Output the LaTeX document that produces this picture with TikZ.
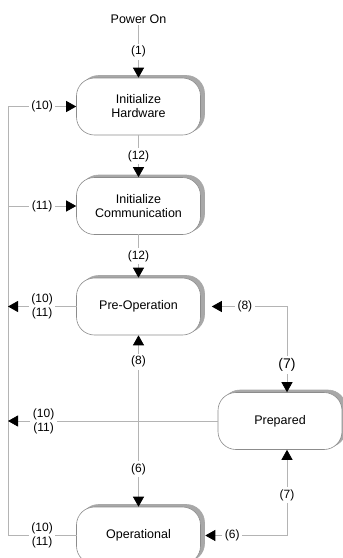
\documentclass[tikz,border=0pt]{standalone}
\usepackage{fontspec}
\setmainfont{Liberation Sans}
\usetikzlibrary{arrows.meta,shadows}
\definecolor{linegray}{HTML}{B4B4B4}
\definecolor{boxgray}{HTML}{8C8C8C}
\definecolor{shadowgray}{HTML}{A8A8A8}
\tikzset{
  state/.style={draw=boxgray, line width=0.6pt, fill=white, rounded corners=18pt,
    minimum width=124pt, minimum height=57pt, align=center, inner sep=0pt,
    font=\fontsize{12.5}{14}\selectfont,
    copy shadow={shadow xshift=4pt, shadow yshift=2.5pt, fill=shadowgray, draw=shadowgray}},
  wire/.style={draw=linegray, line width=0.8pt, line cap=rect},
  conn/.style={wire, -{Triangle[length=10pt,width=11pt,color=black]}},
  lbl/.style={fill=white, inner sep=2.5pt, align=center, font=\fontsize{12}{14}\selectfont},
  biglbl/.style={lbl, font=\fontsize{14}{16}\selectfont},
  plain/.style={font=\fontsize{12.5}{14}\selectfont, inner sep=2pt}
}
\begin{document}
\begin{tikzpicture}[x=1pt,y=1pt]
\useasboundingbox (0,0) rectangle (343,-558);
\clip (0,0) rectangle (343,-558);
\fill[white] (0,0) rectangle (343,-558);

\node[plain] (power) at (138.5,-19) {Power On};
\node[state] (hw)    at (138.5,-106.5) {Initialize\\Hardware};
\node[state] (comm)  at (138.5,-206) {Initialize\\Communication};
\node[state] (preop) at (138.5,-306.5) {Pre-Operation};
\node[state] (prep)  at (280,-421) {Prepared};
\node[state] (oper)  at (138.5,-535.5) {Operational};

\coordinate (bt) at (8,-106.5);
\coordinate (bb) at (8,-535.5);
\coordinate (mc) at (138.5,-421);
\coordinate (k1) at (287,-306.5);
\coordinate (k2) at (287,-535.5);

% main vertical flow
\draw[conn] (power) -- node[lbl]{(1)} (hw);
\draw[conn] (hw) -- node[lbl]{(12)} (comm);
\draw[conn] (comm) -- node[lbl]{(12)} (preop);

% left bus
\draw[wire] (bb) -- (bt);
\draw[conn] (bt) -- node[lbl]{(10)} (hw);
\draw[conn] (bt |- comm) -- node[lbl]{(11)} (comm);
\draw[conn] (preop) -- node[lbl]{(10)\\(11)} (bt |- preop);
\draw[wire] (oper) -- node[lbl]{(10)\\(11)} (bb);

% Pre-Operation <-> Operational
\draw[conn] (mc) -- node[lbl,pos=0.69]{(8)} (preop);
\draw[conn] (mc) -- node[lbl,pos=0.56]{(6)} (oper);

% Prepared to bus (drawn after vertical so it crosses)
\draw[conn] (prep) -- node[lbl,pos=0.83]{(10)\\(11)} (bt |- prep);

% right side
\draw[conn] (k1) -- node[lbl,pos=0.56]{(8)} ([xshift=11pt]preop.east);
\draw[conn] (k1) -- node[biglbl,pos=0.68]{(7)} (k1 |- prep.north);
\draw[conn] (k2) -- node[lbl,pos=0.67]{(6)} ([xshift=4.5pt]oper.east);
\draw[conn] (k2) -- node[lbl,pos=0.47]{(7)} (k2 |- prep.south);
\end{tikzpicture}
\end{document}
